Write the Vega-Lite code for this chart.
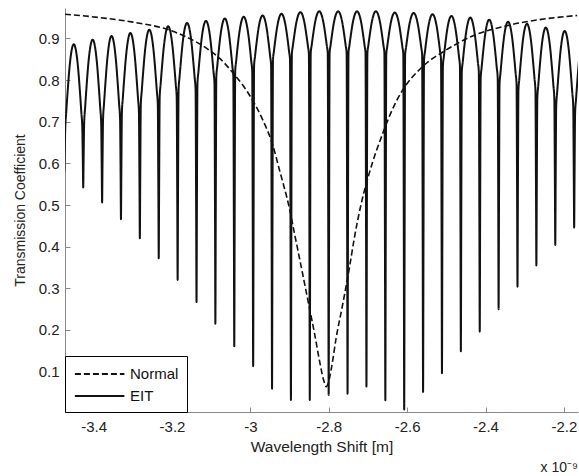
{
"$schema": "https://vega.github.io/schema/vega-lite/v6.json",
"width": 513, "height": 404,
"autosize": "none",
"padding": {"left": 65, "top": 8, "right": 1, "bottom": 64},
"config": {"view": {"stroke": null}, "font": "Liberation Sans"},
"title": {"text": "x 10⁻⁹", "orient": "bottom", "anchor": "end", "fontSize": 14, "fontWeight": "normal", "color": "#222", "offset": 6},
"datasets": {
"normal": [
{"x":-3.4731,"y":0.958},{"x":-3.3840,"y":0.950},{"x":-3.2999,"y":0.939},{"x":-3.2132,"y":0.922},{"x":-3.1623,"y":0.903},{"x":-3.1113,"y":0.876},{"x":-3.0782,"y":0.852},{"x":-3.0451,"y":0.818},{"x":-3.0196,"y":0.788},{"x":-2.9941,"y":0.751},{"x":-2.9687,"y":0.705},{"x":-2.9432,"y":0.645},{"x":-2.9254,"y":0.583},{"x":-2.8999,"y":0.49},{"x":-2.8871,"y":0.43},{"x":-2.8701,"y":0.351},{"x":-2.8532,"y":0.271},{"x":-2.8362,"y":0.191},{"x":-2.8234,"y":0.125},{"x":-2.8132,"y":0.08},{"x":-2.8064,"y":0.064},{"x":-2.8005,"y":0.075},{"x":-2.7929,"y":0.11},{"x":-2.7809,"y":0.182},{"x":-2.7641,"y":0.263},{"x":-2.7470,"y":0.351},{"x":-2.7343,"y":0.423},{"x":-2.7172,"y":0.503},{"x":-2.6961,"y":0.578},{"x":-2.6622,"y":0.672},{"x":-2.6324,"y":0.74},{"x":-2.6120,"y":0.775},{"x":-2.5610,"y":0.832},{"x":-2.5006,"y":0.872},{"x":-2.4329,"y":0.906},{"x":-2.3478,"y":0.930},{"x":-2.2629,"y":0.945},{"x":-2.1661,"y":0.955}
],
"eit": [
{"x":-3.4747,"y":0.58},
{"x":-3.4737,"y":0.628},{"x":-3.4723,"y":0.686},{"x":-3.4699,"y":0.722},{"x":-3.4660,"y":0.776},{"x":-3.4617,"y":0.828},{"x":-3.4506,"y":0.886},{"x":-3.4395,"y":0.828},{"x":-3.4352,"y":0.776},{"x":-3.4313,"y":0.722},{"x":-3.4289,"y":0.686},{"x":-3.4275,"y":0.607},
{"x":-3.4265,"y":0.542},
{"x":-3.4255,"y":0.612},{"x":-3.4241,"y":0.697},{"x":-3.4217,"y":0.733},{"x":-3.4178,"y":0.787},{"x":-3.4135,"y":0.839},{"x":-3.4024,"y":0.897},{"x":-3.3913,"y":0.839},{"x":-3.3870,"y":0.787},{"x":-3.3831,"y":0.733},{"x":-3.3807,"y":0.697},{"x":-3.3793,"y":0.592},
{"x":-3.3783,"y":0.506},
{"x":-3.3773,"y":0.596},{"x":-3.3759,"y":0.706},{"x":-3.3735,"y":0.742},{"x":-3.3696,"y":0.796},{"x":-3.3653,"y":0.848},{"x":-3.3542,"y":0.906},{"x":-3.3431,"y":0.848},{"x":-3.3388,"y":0.796},{"x":-3.3349,"y":0.742},{"x":-3.3325,"y":0.706},{"x":-3.3311,"y":0.574},
{"x":-3.3302,"y":0.466},
{"x":-3.3292,"y":0.582},{"x":-3.3278,"y":0.723},{"x":-3.3254,"y":0.757},{"x":-3.3215,"y":0.809},{"x":-3.3172,"y":0.858},{"x":-3.3061,"y":0.913},{"x":-3.2950,"y":0.858},{"x":-3.2907,"y":0.809},{"x":-3.2868,"y":0.757},{"x":-3.2844,"y":0.723},{"x":-3.2830,"y":0.556},
{"x":-3.2820,"y":0.420},
{"x":-3.2810,"y":0.564},{"x":-3.2796,"y":0.741},{"x":-3.2772,"y":0.773},{"x":-3.2733,"y":0.822},{"x":-3.2690,"y":0.869},{"x":-3.2579,"y":0.921},{"x":-3.2468,"y":0.869},{"x":-3.2425,"y":0.822},{"x":-3.2386,"y":0.773},{"x":-3.2362,"y":0.741},{"x":-3.2348,"y":0.538},
{"x":-3.2338,"y":0.372},
{"x":-3.2328,"y":0.546},{"x":-3.2314,"y":0.759},{"x":-3.2290,"y":0.790},{"x":-3.2251,"y":0.836},{"x":-3.2208,"y":0.880},{"x":-3.2097,"y":0.929},{"x":-3.1986,"y":0.880},{"x":-3.1943,"y":0.836},{"x":-3.1904,"y":0.790},{"x":-3.1880,"y":0.759},{"x":-3.1866,"y":0.518},
{"x":-3.1856,"y":0.320},
{"x":-3.1846,"y":0.526},{"x":-3.1832,"y":0.777},{"x":-3.1808,"y":0.806},{"x":-3.1769,"y":0.849},{"x":-3.1726,"y":0.891},{"x":-3.1615,"y":0.937},{"x":-3.1504,"y":0.891},{"x":-3.1461,"y":0.849},{"x":-3.1422,"y":0.806},{"x":-3.1398,"y":0.777},{"x":-3.1384,"y":0.497},
{"x":-3.1374,"y":0.267},
{"x":-3.1364,"y":0.503},{"x":-3.1350,"y":0.792},{"x":-3.1326,"y":0.819},{"x":-3.1287,"y":0.860},{"x":-3.1244,"y":0.899},{"x":-3.1133,"y":0.942},{"x":-3.1022,"y":0.899},{"x":-3.0979,"y":0.860},{"x":-3.0940,"y":0.819},{"x":-3.0916,"y":0.792},{"x":-3.0902,"y":0.475},
{"x":-3.0893,"y":0.215},
{"x":-3.0883,"y":0.482},{"x":-3.0869,"y":0.808},{"x":-3.0845,"y":0.833},{"x":-3.0806,"y":0.871},{"x":-3.0763,"y":0.907},{"x":-3.0652,"y":0.948},{"x":-3.0541,"y":0.907},{"x":-3.0498,"y":0.871},{"x":-3.0459,"y":0.833},{"x":-3.0435,"y":0.808},{"x":-3.0421,"y":0.452},
{"x":-3.0411,"y":0.161},
{"x":-3.0401,"y":0.458},{"x":-3.0387,"y":0.822},{"x":-3.0363,"y":0.845},{"x":-3.0324,"y":0.881},{"x":-3.0281,"y":0.914},{"x":-3.0170,"y":0.952},{"x":-3.0059,"y":0.914},{"x":-3.0016,"y":0.881},{"x":-2.9977,"y":0.845},{"x":-2.9953,"y":0.822},{"x":-2.9939,"y":0.432},
{"x":-2.9929,"y":0.113},
{"x":-2.9919,"y":0.438},{"x":-2.9905,"y":0.835},{"x":-2.9881,"y":0.857},{"x":-2.9842,"y":0.889},{"x":-2.9799,"y":0.920},{"x":-2.9688,"y":0.955},{"x":-2.9577,"y":0.920},{"x":-2.9534,"y":0.889},{"x":-2.9495,"y":0.857},{"x":-2.9471,"y":0.835},{"x":-2.9457,"y":0.408},
{"x":-2.9447,"y":0.059},
{"x":-2.9437,"y":0.415},{"x":-2.9423,"y":0.849},{"x":-2.9399,"y":0.869},{"x":-2.9360,"y":0.899},{"x":-2.9317,"y":0.927},{"x":-2.9206,"y":0.959},{"x":-2.9095,"y":0.927},{"x":-2.9052,"y":0.899},{"x":-2.9013,"y":0.869},{"x":-2.8989,"y":0.849},{"x":-2.8975,"y":0.400},
{"x":-2.8965,"y":0.032},
{"x":-2.8955,"y":0.406},{"x":-2.8941,"y":0.863},{"x":-2.8917,"y":0.881},{"x":-2.8878,"y":0.908},{"x":-2.8835,"y":0.934},{"x":-2.8724,"y":0.963},{"x":-2.8613,"y":0.934},{"x":-2.8570,"y":0.908},{"x":-2.8531,"y":0.881},{"x":-2.8507,"y":0.863},{"x":-2.8493,"y":0.406},
{"x":-2.8484,"y":0.032},
{"x":-2.8474,"y":0.407},{"x":-2.8460,"y":0.865},{"x":-2.8436,"y":0.883},{"x":-2.8397,"y":0.910},{"x":-2.8354,"y":0.936},{"x":-2.8243,"y":0.965},{"x":-2.8132,"y":0.936},{"x":-2.8089,"y":0.910},{"x":-2.8050,"y":0.883},{"x":-2.8026,"y":0.865},{"x":-2.8012,"y":0.413},
{"x":-2.8002,"y":0.044},
{"x":-2.7992,"y":0.413},{"x":-2.7978,"y":0.865},{"x":-2.7954,"y":0.883},{"x":-2.7915,"y":0.910},{"x":-2.7872,"y":0.936},{"x":-2.7761,"y":0.965},{"x":-2.7650,"y":0.936},{"x":-2.7607,"y":0.910},{"x":-2.7568,"y":0.883},{"x":-2.7544,"y":0.865},{"x":-2.7530,"y":0.415},
{"x":-2.7520,"y":0.047},
{"x":-2.7510,"y":0.415},{"x":-2.7496,"y":0.865},{"x":-2.7472,"y":0.883},{"x":-2.7433,"y":0.910},{"x":-2.7390,"y":0.936},{"x":-2.7279,"y":0.965},{"x":-2.7168,"y":0.936},{"x":-2.7125,"y":0.910},{"x":-2.7086,"y":0.883},{"x":-2.7062,"y":0.865},{"x":-2.7048,"y":0.424},
{"x":-2.7038,"y":0.064},
{"x":-2.7028,"y":0.424},{"x":-2.7014,"y":0.865},{"x":-2.6990,"y":0.883},{"x":-2.6951,"y":0.910},{"x":-2.6908,"y":0.936},{"x":-2.6797,"y":0.965},{"x":-2.6686,"y":0.936},{"x":-2.6643,"y":0.910},{"x":-2.6604,"y":0.883},{"x":-2.6580,"y":0.865},{"x":-2.6566,"y":0.406},
{"x":-2.6556,"y":0.031},
{"x":-2.6546,"y":0.405},{"x":-2.6532,"y":0.862},{"x":-2.6508,"y":0.880},{"x":-2.6469,"y":0.907},{"x":-2.6426,"y":0.933},{"x":-2.6315,"y":0.962},{"x":-2.6204,"y":0.933},{"x":-2.6161,"y":0.907},{"x":-2.6122,"y":0.880},{"x":-2.6098,"y":0.862},{"x":-2.6084,"y":0.393},
{"x":-2.6075,"y":0.009},
{"x":-2.6065,"y":0.392},{"x":-2.6051,"y":0.861},{"x":-2.6027,"y":0.879},{"x":-2.5988,"y":0.906},{"x":-2.5945,"y":0.932},{"x":-2.5834,"y":0.961},{"x":-2.5723,"y":0.932},{"x":-2.5680,"y":0.906},{"x":-2.5641,"y":0.879},{"x":-2.5617,"y":0.861},{"x":-2.5603,"y":0.416},
{"x":-2.5593,"y":0.051},
{"x":-2.5583,"y":0.410},{"x":-2.5569,"y":0.848},{"x":-2.5545,"y":0.868},{"x":-2.5506,"y":0.898},{"x":-2.5463,"y":0.926},{"x":-2.5352,"y":0.958},{"x":-2.5241,"y":0.926},{"x":-2.5198,"y":0.898},{"x":-2.5159,"y":0.868},{"x":-2.5135,"y":0.848},{"x":-2.5121,"y":0.434},
{"x":-2.5111,"y":0.096},
{"x":-2.5101,"y":0.428},{"x":-2.5087,"y":0.834},{"x":-2.5063,"y":0.856},{"x":-2.5024,"y":0.888},{"x":-2.4981,"y":0.919},{"x":-2.4870,"y":0.954},{"x":-2.4759,"y":0.919},{"x":-2.4716,"y":0.888},{"x":-2.4677,"y":0.856},{"x":-2.4653,"y":0.834},{"x":-2.4639,"y":0.457},
{"x":-2.4629,"y":0.149},
{"x":-2.4619,"y":0.451},{"x":-2.4605,"y":0.820},{"x":-2.4581,"y":0.843},{"x":-2.4542,"y":0.879},{"x":-2.4499,"y":0.912},{"x":-2.4388,"y":0.950},{"x":-2.4277,"y":0.912},{"x":-2.4234,"y":0.879},{"x":-2.4195,"y":0.843},{"x":-2.4171,"y":0.820},{"x":-2.4157,"y":0.477},
{"x":-2.4147,"y":0.196},
{"x":-2.4137,"y":0.470},{"x":-2.4123,"y":0.805},{"x":-2.4099,"y":0.830},{"x":-2.4060,"y":0.868},{"x":-2.4017,"y":0.904},{"x":-2.3906,"y":0.945},{"x":-2.3795,"y":0.904},{"x":-2.3752,"y":0.868},{"x":-2.3713,"y":0.830},{"x":-2.3689,"y":0.805},{"x":-2.3675,"y":0.500},
{"x":-2.3666,"y":0.250},
{"x":-2.3656,"y":0.493},{"x":-2.3642,"y":0.790},{"x":-2.3618,"y":0.817},{"x":-2.3579,"y":0.858},{"x":-2.3536,"y":0.897},{"x":-2.3425,"y":0.940},{"x":-2.3314,"y":0.897},{"x":-2.3271,"y":0.858},{"x":-2.3232,"y":0.817},{"x":-2.3208,"y":0.790},{"x":-2.3194,"y":0.523},
{"x":-2.3184,"y":0.304},
{"x":-2.3174,"y":0.516},{"x":-2.3160,"y":0.775},{"x":-2.3136,"y":0.804},{"x":-2.3097,"y":0.847},{"x":-2.3054,"y":0.889},{"x":-2.2943,"y":0.935},{"x":-2.2832,"y":0.889},{"x":-2.2789,"y":0.847},{"x":-2.2750,"y":0.804},{"x":-2.2726,"y":0.775},{"x":-2.2712,"y":0.544},
{"x":-2.2702,"y":0.355},
{"x":-2.2692,"y":0.535},{"x":-2.2678,"y":0.756},{"x":-2.2654,"y":0.787},{"x":-2.2615,"y":0.833},{"x":-2.2572,"y":0.877},{"x":-2.2461,"y":0.926},{"x":-2.2350,"y":0.877},{"x":-2.2307,"y":0.833},{"x":-2.2268,"y":0.787},{"x":-2.2244,"y":0.756},{"x":-2.2230,"y":0.562},
{"x":-2.2220,"y":0.404},
{"x":-2.2210,"y":0.554},{"x":-2.2196,"y":0.738},{"x":-2.2172,"y":0.770},{"x":-2.2133,"y":0.819},{"x":-2.2090,"y":0.866},{"x":-2.1979,"y":0.918},{"x":-2.1868,"y":0.866},{"x":-2.1825,"y":0.819},{"x":-2.1786,"y":0.770},{"x":-2.1762,"y":0.738},{"x":-2.1748,"y":0.577},
{"x":-2.1738,"y":0.446},
{"x":-2.1728,"y":0.569},{"x":-2.1714,"y":0.720},{"x":-2.1690,"y":0.754},{"x":-2.1651,"y":0.805},{"x":-2.1608,"y":0.855}
]
},
"encoding": {
"x": {"field": "x", "type": "quantitative", "scale": {"domain": [-3.473, -2.164], "nice": false, "zero": false},
  "axis": {"title": "Wavelength Shift [m]", "values": [-3.4, -3.2, -3, -2.8, -2.6, -2.4, -2.2], "labelExpr": "replace(format(datum.value, '.1~f'), '\u2212', '-')", "grid": false, "domainColor": "#888", "tickColor": "#888", "tickSize": -5, "labelPadding": 12, "labelColor": "#222", "labelFontSize": 15, "titleFontSize": 15.5, "titleFontWeight": "normal", "titleColor": "#222", "titlePadding": 5}},
"y": {"field": "y", "type": "quantitative", "scale": {"domain": [0.003, 0.973], "nice": false, "zero": false},
  "axis": {"title": "Transmission Coefficient", "values": [0.1, 0.2, 0.3, 0.4, 0.5, 0.6, 0.7, 0.8, 0.9], "format": ".1f", "grid": false, "domainColor": "#888", "tickColor": "#888", "tickSize": -5, "labelPadding": 11, "labelColor": "#222", "labelFontSize": 15, "titleFontSize": 14, "titleFontWeight": "normal", "titleColor": "#222", "titlePadding": 11}}
},
"layer": [
{"data": {"name": "normal"}, "mark": {"type": "line", "interpolate": "monotone", "clip": true, "color": "#111", "strokeWidth": 1.6},
 "encoding": {"strokeDash": {"datum": "Normal", "type": "nominal", "scale": {"domain": ["Normal", "EIT"], "range": [[6, 3], [1, 0]]},
   "legend": {"title": null, "orient": "bottom-left", "offset": 0, "padding": 8, "strokeColor": "#000", "fillColor": "#fff", "symbolType": "M-0.9,0H4.6", "symbolSize": 324, "symbolStrokeWidth": 2, "symbolStrokeColor": "#111", "labelFontSize": 15, "labelColor": "#111", "rowPadding": 4, "labelOffset": 37}}}},
{"data": {"name": "eit"}, "mark": {"type": "line", "interpolate": "monotone", "clip": true, "color": "#111", "strokeWidth": 2},
 "encoding": {"strokeDash": {"datum": "EIT", "type": "nominal"}}}
]
}
